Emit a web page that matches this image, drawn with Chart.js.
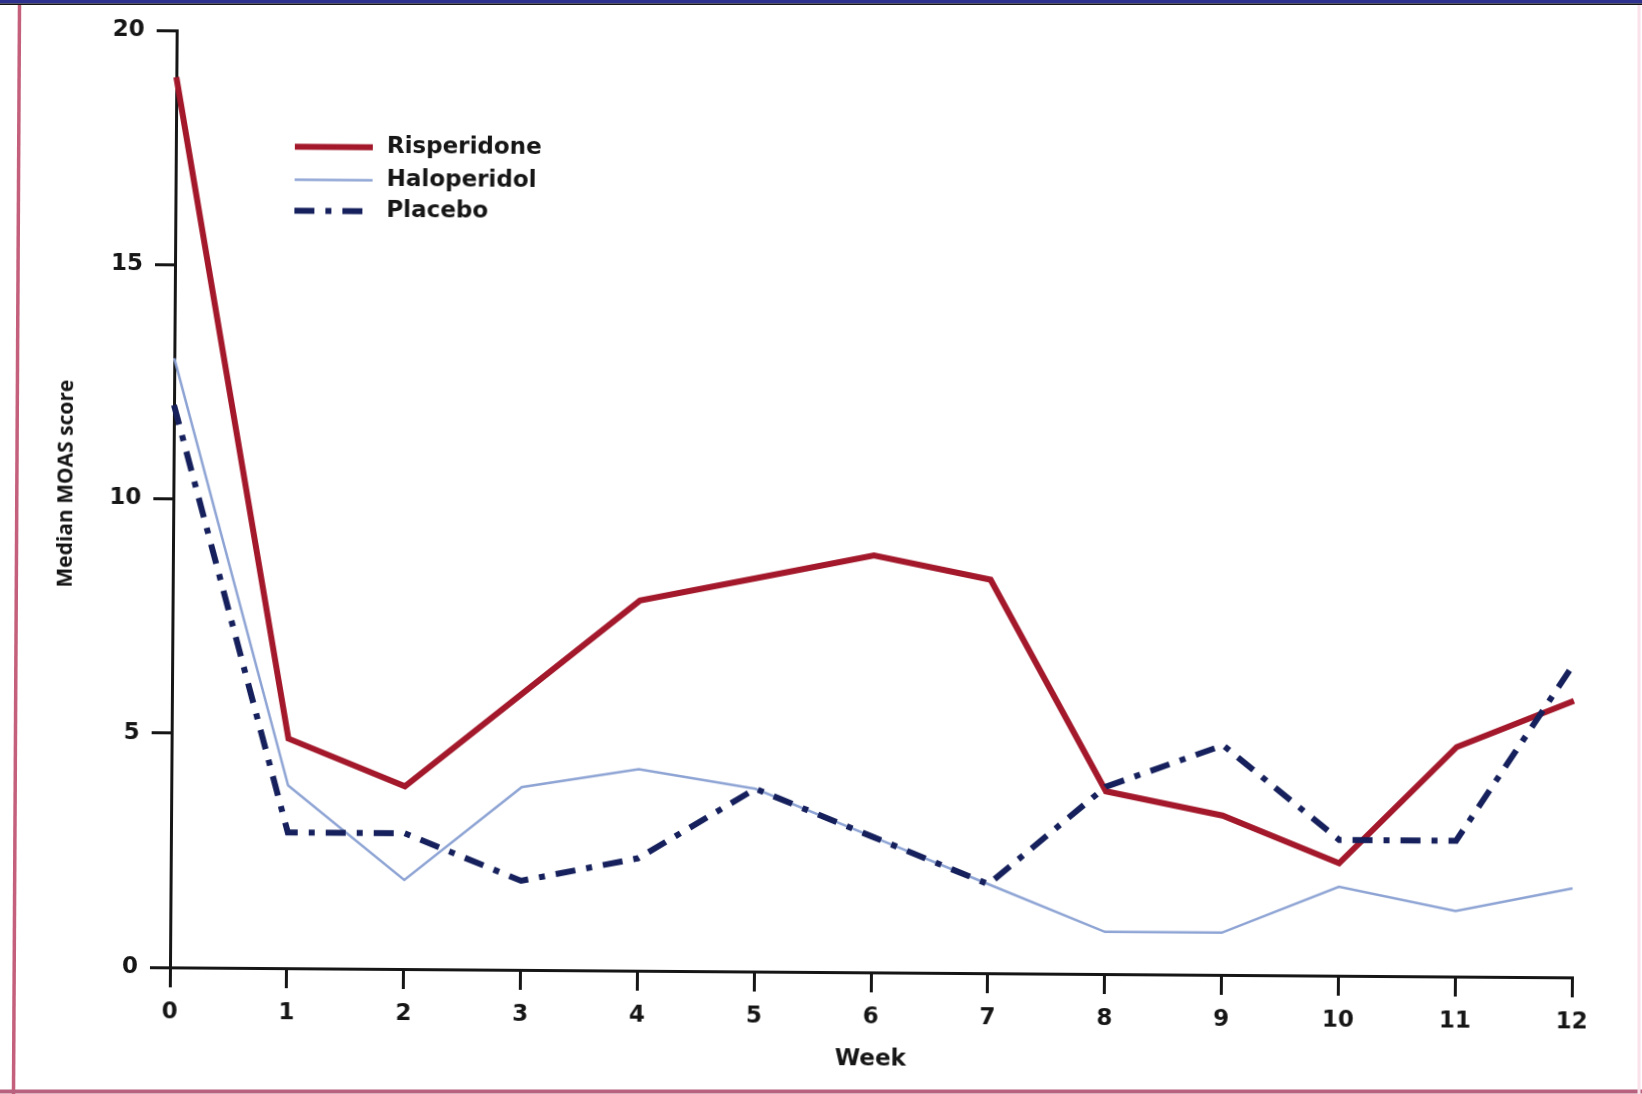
<!DOCTYPE html>
<html>
<head>
<meta charset="utf-8">
<title>Median MOAS score by week</title>
<script src="https://cdn.jsdelivr.net/npm/chart.js@4.4.1/dist/chart.umd.min.js"></script>
<style>
  html, body { margin: 0; padding: 0; background: #fff; overflow: hidden; width: 1642px; height: 1094px; }
  #wrap { position: relative; width: 1642px; height: 1094px; }
  /* the printed figure sits a little askew on the page */
  #chart { position: absolute; left: 0; top: 0; transform: rotate(0.41deg); transform-origin: 821px 547px; }
  #frame { position: absolute; left: 0; top: 0; pointer-events: none; }
</style>
</head>
<body>
<div id="wrap">
  <canvas id="chart" width="1642" height="1094"></canvas>
  <svg id="frame" width="1642" height="1094">
    <rect x="0" y="0" width="1642" height="3.5" fill="#2e308e"/>
    <rect x="0" y="3.5" width="1642" height="1.5" fill="#161616"/>
    <line x1="19.5" y1="5" x2="13.5" y2="1094" stroke="#c4607c" stroke-width="3.5"/>
    <line x1="0" y1="1091.5" x2="1642" y2="1091.5" stroke="#b8627f" stroke-width="4"/>
    <line x1="1639" y1="5" x2="1639" y2="1094" stroke="#f9e2ea" stroke-width="3"/>
  </svg>
</div>
<script>
// Week of treatment
const weeks = ['0', '1', '2', '3', '4', '5', '6', '7', '8', '9', '10', '11', '12'];

// Median MOAS score per arm
const risperidone = [19, 4.9, 3.9, 5.9, 7.9, 8.4, 8.9, 8.4, 3.9, 3.4, 2.4, 4.9, 5.9];
const haloperidol = [13, 3.9, 1.9, 3.9, 4.3, 3.9, 2.9, 1.9, 0.9, 0.9, 1.9, 1.4, 1.9];
const placebo     = [12, 2.9, 2.9, 1.9, 2.4, 3.9, 2.9, 1.9, 4.0, 4.9, 2.9, 2.9, 6.7];

const seriesNames = ['Risperidone', 'Haloperidol', 'Placebo'];
const yTicks = [0, 5, 10, 15, 20];
const xTitle = 'Week';
const yTitle = 'Median MOAS score';

const AXIS = '#161616';
const tickFont = { family: 'DejaVu Sans', weight: 'bold', size: 23 };

// Key in the upper left of the plot, plus the rotated y-axis caption
const keyAndCaption = {
  id: 'keyAndCaption',
  afterDraw(chart) {
    const ctx = chart.ctx;
    ctx.save();

    ctx.fillStyle = AXIS;
    ctx.font = '700 21px "Open Sans"';
    ctx.textAlign = 'center';
    ctx.textBaseline = 'middle';
    ctx.translate(66, 489);
    ctx.rotate(-Math.PI / 2);
    ctx.fillText(yTitle, 0, 0);
    ctx.setTransform(1, 0, 0, 1, 0, 0);

    const rowsY = [150.5, 183.5, 214.5];
    chart.data.datasets.forEach((ds, i) => {
      const y = rowsY[i];
      ctx.beginPath();
      ctx.strokeStyle = ds.borderColor;
      ctx.lineWidth = ds.borderWidth;
      ctx.lineCap = 'butt';
      ctx.setLineDash(ds.borderDash || []);
      ctx.moveTo(292, y);
      ctx.lineTo(370, y);
      ctx.stroke();
      ctx.setLineDash([]);
      ctx.fillStyle = AXIS;
      ctx.font = 'bold 23px "DejaVu Sans"';
      ctx.textAlign = 'left';
      ctx.textBaseline = 'middle';
      ctx.fillText(ds.label, 384, y);
    });
    ctx.restore();
  }
};

const axisGrid = {
  display: true,
  drawOnChartArea: false,
  drawTicks: true,
  tickLength: 20,
  color: AXIS,
  lineWidth: 3
};

new Chart(document.getElementById('chart'), {
  type: 'line',
  data: {
    labels: weeks,
    datasets: [
      { label: seriesNames[0], data: risperidone, borderColor: '#a3182b', borderWidth: 6,
        pointRadius: 0, tension: 0, order: 3 },
      { label: seriesNames[1], data: haloperidol, borderColor: '#8ea4d4', borderWidth: 2.5,
        pointRadius: 0, tension: 0, order: 2 },
      { label: seriesNames[2], data: placebo, borderColor: '#15205c', borderWidth: 6,
        borderDash: [20, 11, 6, 11], pointRadius: 0, tension: 0, order: 1 }
    ]
  },
  options: {
    responsive: false,
    animation: false,
    devicePixelRatio: 1,
    layout: { padding: { left: 0, right: 67, top: 35, bottom: 0 } },
    plugins: { legend: { display: false }, tooltip: { enabled: false } },
    scales: {
      x: {
        type: 'category',
        offset: false,
        grid: axisGrid,
        border: { display: true, color: AXIS, width: 3 },
        ticks: { color: AXIS, font: tickFont, padding: 11, maxRotation: 0, autoSkip: false },
        title: { display: true, text: xTitle, color: AXIS,
                 font: { family: 'DejaVu Sans', weight: 'bold', size: 23 },
                 padding: { top: 0, bottom: 21 } },
        afterFit(scale) { scale.height = 122; }
      },
      y: {
        min: 0,
        max: 20,
        afterBuildTicks(scale) { scale.ticks = yTicks.map(v => ({ value: v })); },
        grid: axisGrid,
        border: { display: true, color: AXIS, width: 3 },
        ticks: { color: AXIS, font: tickFont, padding: 12 },
        afterFit(scale) { scale.width = 173; }
      }
    }
  },
  plugins: [keyAndCaption]
});
</script>
</body>
</html>
